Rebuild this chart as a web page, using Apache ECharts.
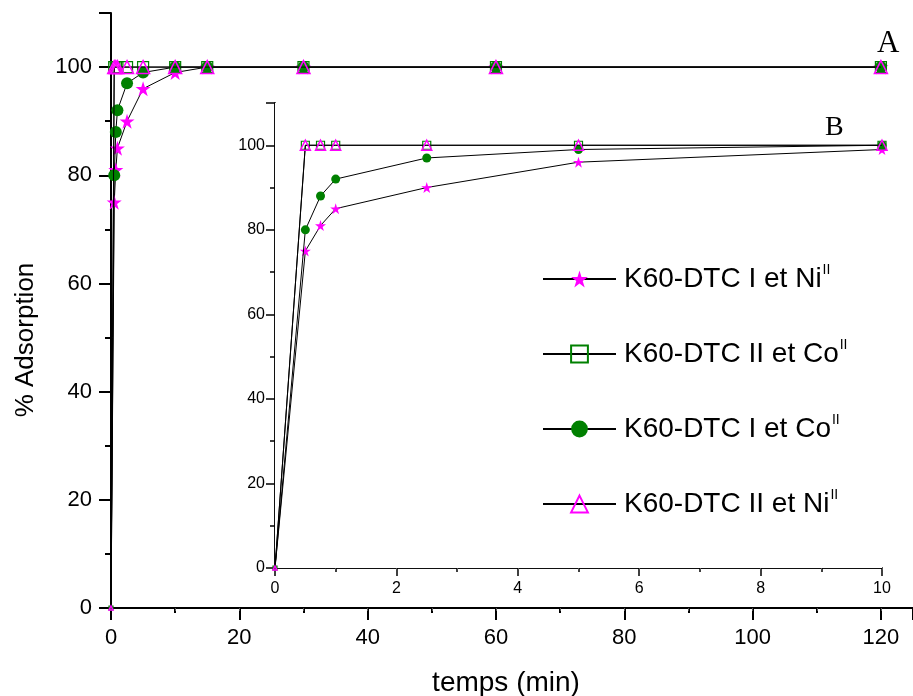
<!DOCTYPE html>
<html>
<head>
<meta charset="utf-8">
<script src="https://cdn.jsdelivr.net/npm/echarts/dist/echarts.min.js"></script>
<style>html,body{margin:0;padding:0;background:#fff}#c{width:913px;height:696px}</style>
</head>
<body>
<div id="c"></div>
<script>
// ---- data (time in min, % adsorption) ----
var times = [0, 0.5, 0.75, 1, 2.5, 5, 10, 15, 30, 60, 120];
var niI  = [0, 75, 81, 85, 90, 96, 99, 100, 100, 100, 100];   // K60-DTC I et Ni(II)
var coII = [0, 100, 100, 100, 100, 100, 100, 100, 100, 100, 100]; // K60-DTC II et Co(II)
var coI  = [0, 80, 88, 92, 97, 99, 100, 100, 100, 100, 100];  // K60-DTC I et Co(II)
var niII = [0, 100, 100, 100, 100, 100, 100, 100, 100, 100, 100]; // K60-DTC II et Ni(II)
var legendBase = ['K60-DTC I et Ni', 'K60-DTC II et Co', 'K60-DTC I et Co', 'K60-DTC II et Ni'];
var legendSup = ['II', 'II', 'II', 'II'];
var mainXTicks = [0, 20, 40, 60, 80, 100, 120];
var insetXTicks = [0, 2, 4, 6, 8, 10];
var yTicks = [0, 20, 40, 60, 80, 100];

var names = legendBase.map(function (b, i) { return b + legendSup[i]; });
var STAR = 'path://M50,0 L61.2,34.5 L97.6,34.5 L68.2,55.9 L79.4,90.5 L50,69.1 L20.6,90.5 L31.8,55.9 L2.4,34.5 L38.8,34.5 Z';
var MAG = '#ff00ff', GRN = '#008000';

function pairs(vals, maxT) {
  var out = [];
  for (var i = 0; i < times.length; i++) if (times[i] <= maxT) out.push([times[i], vals[i]]);
  return out;
}
var styles = [
  { symbol: STAR, itemStyle: { color: MAG }, main: 15, inset: 11 },
  { symbol: 'rect', itemStyle: { color: 'rgba(255,255,255,0)', borderColor: GRN, borderWidth: 1.2 }, main: 11, inset: 8 },
  { symbol: 'circle', itemStyle: { color: GRN }, main: 12, inset: 9 },
  { symbol: 'triangle', itemStyle: { color: 'rgba(255,255,255,0)', borderColor: MAG, borderWidth: 1.5 }, main: 13, inset: 10 }
];
var valsList = [niI, coII, coI, niII];

function sizeFn(s) {
  return function (v) { return v[0] === 0 ? 4 : s; };
}

var series = [];
valsList.forEach(function (v, i) {
  series.push({
    name: names[i], type: 'line', xAxisIndex: 0, yAxisIndex: 0,
    data: pairs(v, 1000), symbol: styles[i].symbol, symbolSize: sizeFn(styles[i].main),
    showAllSymbol: true, clip: false,
    lineStyle: { color: '#000', width: 1 }, itemStyle: styles[i].itemStyle,
    emphasis: { disabled: true }, z: 3 + i
  });
});
valsList.forEach(function (v, i) {
  series.push({
    name: names[i], type: 'line', xAxisIndex: 2, yAxisIndex: 2,
    data: pairs(v, 10), symbol: styles[i].symbol, symbolSize: sizeFn(styles[i].inset),
    showAllSymbol: true, clip: false,
    lineStyle: { color: '#000', width: 1 }, itemStyle: styles[i].itemStyle,
    emphasis: { disabled: true }, z: 13 + i
  });
});

function tickFmt(list) {
  return function (v) { return list.indexOf(v) >= 0 ? String(v) : ''; };
}

var chart = echarts.init(document.getElementById('c'), null, { renderer: 'canvas' });
chart.setOption({
  animation: false,
  backgroundColor: '#fff',
  grid: [
    { left: 111, top: 13, right: 0, bottom: 88, containLabel: false, outerBoundsMode: 'none' },
    { left: 275, top: 103, right: 31, bottom: 128, containLabel: false, outerBoundsMode: 'none', show: true, backgroundColor: '#fff', borderWidth: 0, z: 10 }
  ],
  xAxis: [
    { gridIndex: 0, type: 'value', min: 0, max: 125, interval: 20, position: 'bottom',
      axisLine: { lineStyle: { color: '#000', width: 2 } },
      axisTick: { inside: false, length: 12, lineStyle: { color: '#000', width: 2 } },
      minorTick: { show: true, splitNumber: 2, length: 5, lineStyle: { color: '#000', width: 2 } },
      splitLine: { show: false },
      axisLabel: { margin: 19, fontSize: 22, color: '#000', fontFamily: 'Liberation Sans, Arial', formatter: tickFmt(mainXTicks), showMaxLabel: false },
      name: 'temps (min)', nameLocation: 'middle', nameGap: 61,
      nameTextStyle: { fontSize: 28, color: '#000', fontFamily: 'Liberation Sans, Arial', padding: [0, 12, 0, 0] } },
    { gridIndex: 0, type: 'value', min: 0, max: 125, interval: 10, position: 'top',
      axisLine: { show: true, lineStyle: { color: '#000', width: 2 } },
      axisTick: { show: true, inside: true, length: 3, lineStyle: { color: '#555', width: 1 } },
      axisLabel: { show: false }, splitLine: { show: false } },
    { gridIndex: 1, type: 'value', min: 0, max: 10, interval: 2, position: 'bottom',
      axisLine: { lineStyle: { color: '#000', width: 1.5 } },
      axisTick: { inside: false, length: 8, lineStyle: { color: '#000', width: 1.5 } },
      minorTick: { show: true, splitNumber: 2, length: 4, lineStyle: { color: '#000', width: 1.5 } },
      splitLine: { show: false },
      axisLabel: { margin: 13, fontSize: 16, color: '#000', fontFamily: 'Liberation Sans, Arial', formatter: tickFmt(insetXTicks) } },
    { gridIndex: 1, type: 'value', min: 0, max: 10, interval: 1, position: 'top',
      axisLine: { show: true, lineStyle: { color: '#000', width: 1.5 } },
      axisTick: { show: true, inside: true, length: 2, lineStyle: { color: '#555', width: 1 } },
      axisLabel: { show: false }, splitLine: { show: false } }
  ],
  yAxis: [
    { gridIndex: 0, type: 'value', min: 0, max: 110, interval: 20, position: 'left',
      axisLine: { show: true, lineStyle: { color: '#000', width: 2 } },
      axisTick: { show: true, inside: false, length: 12, lineStyle: { color: '#000', width: 2 } },
      minorTick: { show: true, splitNumber: 2, length: 6, lineStyle: { color: '#000', width: 2 } },
      splitLine: { show: false },
      axisLabel: { margin: 19, fontSize: 22, color: '#000', fontFamily: 'Liberation Sans, Arial', formatter: tickFmt(yTicks), showMaxLabel: false } },
    { gridIndex: 0, type: 'value', min: 0, max: 110, position: 'right',
      axisLine: { show: false }, axisTick: { show: false }, axisLabel: { show: false }, splitLine: { show: false } },
    { gridIndex: 1, type: 'value', min: 0, max: 110, interval: 20, position: 'left',
      axisLine: { show: true, lineStyle: { color: '#000', width: 1.5 } },
      axisTick: { show: true, inside: false, length: 9, lineStyle: { color: '#000', width: 1.5 } },
      minorTick: { show: true, splitNumber: 2, length: 5, lineStyle: { color: '#000', width: 1.5 } },
      splitLine: { show: false },
      axisLabel: { margin: 10, fontSize: 16, color: '#000', fontFamily: 'Liberation Sans, Arial', formatter: tickFmt(yTicks), showMaxLabel: false } },
    { gridIndex: 1, type: 'value', min: 0, max: 110, position: 'right',
      axisLine: { show: true, lineStyle: { color: '#000', width: 1.5 } },
      axisTick: { show: false }, axisLabel: { show: false }, splitLine: { show: false } }
  ],
  legend: {
    data: names, orient: 'vertical', left: 542, top: 263, padding: 0,
    itemWidth: 73, itemHeight: 21, itemGap: 45, selectedMode: false, z: 30,
    formatter: function (n) {
      var i = names.indexOf(n);
      return '{b|' + legendBase[i] + '}{s|' + legendSup[i] + '}';
    },
    textStyle: {
      color: '#000', fontFamily: 'Liberation Sans, Arial', padding: [0, 0, 0, 3],
      rich: {
        b: { fontSize: 28, lineHeight: 32, color: '#000', fontFamily: 'Liberation Sans, Arial' },
        s: { fontSize: 14, lineHeight: 14, verticalAlign: 'top', color: '#000', fontFamily: 'Liberation Sans, Arial', padding: [0, 0, 0, 1] }
      }
    }
  },
  graphic: [
    { type: 'text', left: 877, top: 28, z: 40, style: { text: 'A', fontSize: 31, fontFamily: 'Liberation Serif, Times New Roman', fill: '#000' } },
    { type: 'text', left: 825, top: 114, z: 40, style: { text: 'B', fontSize: 28, fontFamily: 'Liberation Serif, Times New Roman', fill: '#000' } },
    { type: 'text', x: 26, y: 340, rotation: Math.PI / 2, z: 40,
      style: { text: '% Adsorption', fontSize: 26, fontFamily: 'Liberation Sans, Arial', fill: '#000', align: 'center', verticalAlign: 'middle' } }
  ],
  series: series
});
</script>
</body>
</html>
